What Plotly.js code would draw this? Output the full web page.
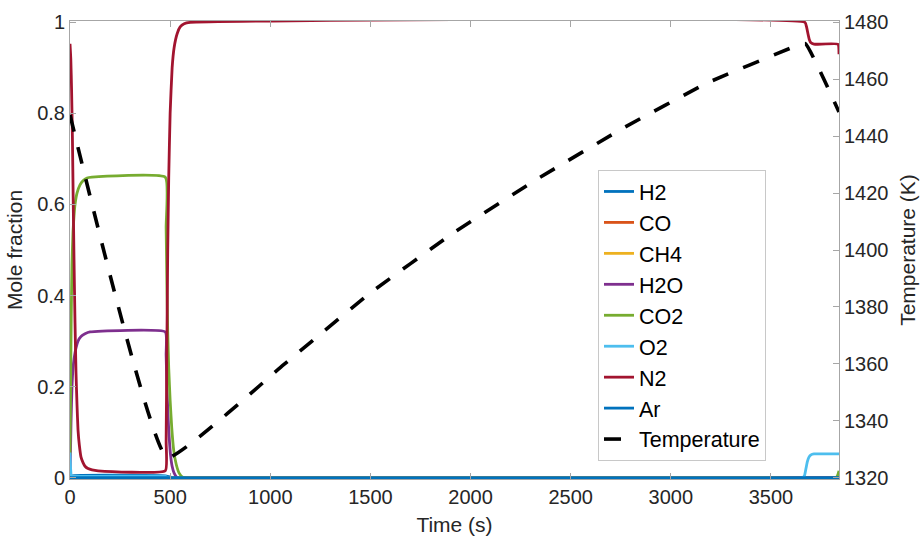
<!DOCTYPE html>
<html>
<head>
<meta charset="utf-8">
<script src="https://cdn.plot.ly/plotly-3.0.1.min.js"></script>
<style>
html,body{margin:0;padding:0;background:#fff;}
#chart{width:922px;height:538px;}
</style>
</head>
<body>
<div id="chart"></div>
<script>
// ---- Data ----
var h2T  = [0, 10, 476, 500, 520, 3840];
var h2Y  = [0, 0.004, 0.004, 0.001, 0, 0];

var coT  = [0, 3840];
var coY  = [0, 0];

var ch4T = [0, 3840];
var ch4Y = [0, 0];

var h2oT = [0, 5, 10, 15, 20, 30, 40, 55, 75, 100, 476, 480, 484, 489, 495, 502, 510, 520, 535, 3840];
var h2oY = [0, 0.12, 0.2, 0.24, 0.26, 0.285, 0.3, 0.31, 0.316, 0.32, 0.32, 0.27, 0.2, 0.14, 0.09, 0.05, 0.025, 0.01, 0, 0];

var co2T = [0, 3, 6, 10, 15, 20, 25, 35, 50, 65, 85, 110, 476, 480, 484, 488, 493, 500, 508, 518, 530, 545, 565, 3825, 3832, 3840];
var co2Y = [0.05, 0.2, 0.35, 0.47, 0.54, 0.575, 0.6, 0.625, 0.643, 0.652, 0.658, 0.66, 0.66, 0.55, 0.42, 0.32, 0.24, 0.17, 0.11, 0.06, 0.03, 0.01, 0, 0, 0.004, 0.015];

var o2T  = [0, 3, 6, 12, 476, 490, 3660, 3668, 3675, 3682, 3690, 3700, 3715, 3840];
var o2Y  = [0.055, 0.02, 0.005, 0.003, 0.003, 0, 0, 0.005, 0.02, 0.035, 0.045, 0.05, 0.052, 0.052];

var n2T  = [0, 4, 8, 12, 16, 20, 25, 30, 35, 40, 47, 55, 65, 75, 90, 110, 140, 476, 480, 484, 488, 493, 500, 510, 520, 535, 550, 570, 600, 3670, 3678, 3685, 3692, 3700, 3715, 3835, 3840];
var n2Y  = [0.953, 0.92, 0.85, 0.75, 0.61, 0.48, 0.34, 0.23, 0.16, 0.105, 0.07, 0.045, 0.033, 0.025, 0.02, 0.017, 0.015, 0.015, 0.08, 0.3, 0.5, 0.66, 0.8, 0.9, 0.945, 0.975, 0.99, 0.997, 1.0, 1.0, 0.99, 0.975, 0.962, 0.955, 0.952, 0.952, 0.93];

var arT  = [0, 3840];
var arY  = [0, 0];

var tempT = [0, 485, 1067, 1492, 1914, 2335, 2761, 3182, 3607, 3672, 3840];
var tempK = [1447.5, 1327, 1359.7, 1384.5, 1406, 1425, 1442.8, 1458.7, 1471.2, 1472.5, 1448.5];

var xTicks  = [0, 500, 1000, 1500, 2000, 2500, 3000, 3500];
var yTicks  = [0, 0.2, 0.4, 0.6, 0.8, 1];
var yLabels = ['0', '0.2', '0.4', '0.6', '0.8', '1'];
var y2Ticks = [1320, 1340, 1360, 1380, 1400, 1420, 1440, 1460, 1480];

var names  = ['H2', 'CO', 'CH4', 'H2O', 'CO2', 'O2', 'N2', 'Ar'];
var colors = ['#0072BD', '#D95319', '#EDB120', '#7E2F8E', '#77AC30', '#4DBEEE', '#A2142F', '#0072BD'];
var series = [[h2T, h2Y], [coT, coY], [ch4T, ch4Y], [h2oT, h2oY], [co2T, co2Y], [o2T, o2Y], [n2T, n2Y], [arT, arY]];

// ---- Traces ----
var traces = [];
for (var i = 0; i < names.length; i++) {
  traces.push({
    x: series[i][0], y: series[i][1], name: names[i],
    type: 'scatter', mode: 'lines',
    line: {color: colors[i], width: 2.8, shape: 'spline', smoothing: 0.4},
    xaxis: 'x', yaxis: 'y'
  });
}
traces.push({
  x: tempT, y: tempK, name: 'Temperature',
  type: 'scatter', mode: 'lines',
  line: {color: '#000000', width: 3.6, dash: '17px,16px', shape: 'spline', smoothing: 0.3},
  xaxis: 'x', yaxis: 'y2'
});

var axCol = '#a6a6a6';
var tickFont = {family: 'Liberation Sans, Arial, sans-serif', size: 20, color: '#262626'};
var titleFont = {family: 'Liberation Sans, Arial, sans-serif', size: 21, color: '#262626'};

var layout = {
  width: 922, height: 538,
  margin: {l: 70, r: 83, t: 21, b: 59, pad: 0},
  paper_bgcolor: '#ffffff', plot_bgcolor: '#ffffff',
  showlegend: true,
  font: {family: 'Liberation Sans, Arial, sans-serif', color: '#262626'},
  xaxis: {
    range: [0, 3840], tickvals: xTicks, ticktext: xTicks.map(String),
    ticks: 'inside', ticklen: 6, tickwidth: 1, tickcolor: axCol,
    showline: true, linecolor: axCol, linewidth: 1, mirror: 'ticks',
    showgrid: false, zeroline: false, tickfont: tickFont,
    title: {text: 'Time (s)', font: titleFont, standoff: 10},
    automargin: false
  },
  yaxis: {
    range: [-0.003, 1.003], tickvals: yTicks, ticktext: yLabels,
    ticks: 'inside', ticklen: 6, tickwidth: 1, tickcolor: axCol,
    showline: true, linecolor: axCol, linewidth: 1,
    showgrid: false, zeroline: false, tickfont: tickFont,
    title: {text: 'Mole fraction', font: titleFont, standoff: 8},
    automargin: false
  },
  yaxis2: {
    range: [1319.52, 1480.48], tickvals: y2Ticks, ticktext: y2Ticks.map(String),
    overlaying: 'y', side: 'right',
    ticks: 'inside', ticklen: 6, tickwidth: 1, tickcolor: axCol,
    showline: true, linecolor: axCol, linewidth: 1,
    showgrid: false, zeroline: false, tickfont: tickFont,
    title: {text: 'Temperature (K)', font: titleFont, standoff: 12},
    automargin: false
  },
  legend: {
    x: 0.6866, y: 0.6747, xanchor: 'left', yanchor: 'top',
    bgcolor: '#ffffff', bordercolor: '#c8c8c8', borderwidth: 1,
    font: {family: 'Liberation Sans, Arial, sans-serif', size: 21.5, color: '#000000'},
    tracegroupgap: 0, itemwidth: 30
  }
};

Plotly.newPlot('chart', traces, layout, {displayModeBar: false, staticPlot: true});
</script>
</body>
</html>
